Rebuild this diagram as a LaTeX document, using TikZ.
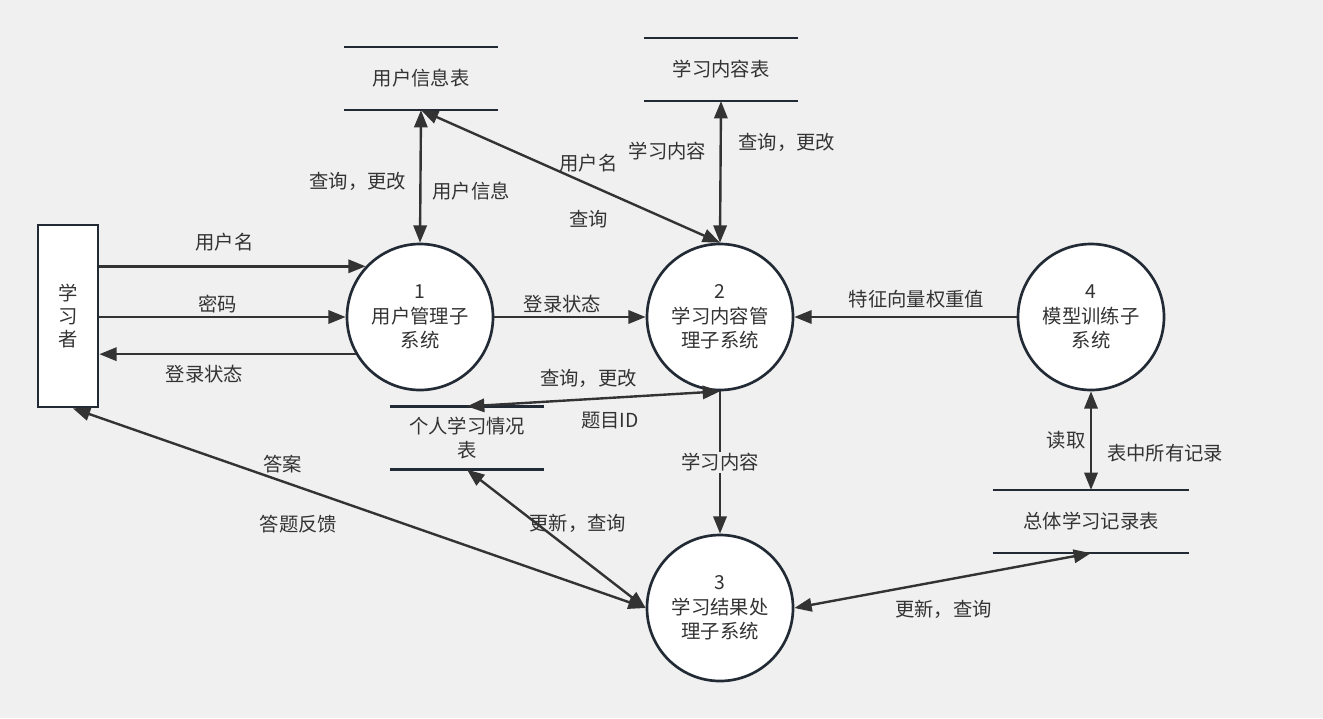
\documentclass[tikz,border=0pt]{standalone}
\usepackage{fontspec}
\setmainfont{Noto Sans CJK SC}
\usepackage{xcolor}
\usepackage{tikz}
\usetikzlibrary{arrows.meta}

\definecolor{canvas}{HTML}{F0F0F0}
\definecolor{ink}{HTML}{333333}
\definecolor{rim}{HTML}{222B35}
\newcommand{\dffont}{\fontsize{14.5}{18.4}\selectfont}

\begin{document}
\begin{tikzpicture}[x=0.75pt, y=-0.75pt]
\tikzstyle{process}=[circle, draw=rim, line width=2pt, fill=white, minimum size=109.5pt, inner sep=0pt, align=center, text=ink, font=\dffont]
\tikzstyle{entity}=[rectangle, draw=rim, line width=2pt, fill=white, minimum width=45pt, minimum height=136.5pt, inner sep=0pt, align=center, text=ink, font=\fontsize{14.5}{17.3}\selectfont]
\tikzstyle{store}=[minimum width=115pt, minimum height=47pt, inner sep=0pt, align=center, text=ink, font=\dffont]
\tikzstyle{storeline}=[draw=rim, line width=2pt]
\tikzstyle{flow}=[draw=ink, line width=1.8pt, -{Triangle[length=13pt, width=10pt]}]
\tikzstyle{twoway}=[flow, {Triangle[length=13pt, width=10pt]}-{Triangle[length=13pt, width=10pt]}]
\tikzstyle{lbl}=[text=ink, inner sep=1pt, font=\dffont]

% Background
\fill[canvas] (0, 0) rectangle (1323, 718);

% External entity
\node[entity] (learner) at (68, 316) {学\\习\\者};

% Processes
\node[process] (usermgr) at (420, 317) {1\\用户管理子\\系统};
\node[process] (contentmgr) at (720, 317) {2\\学习内容管\\理子系统};
\node[process] (resultproc) at (720, 608) {3\\学习结果处\\理子系统};
\node[process] (training) at (1091, 317) {4\\模型训练子\\系统};

% Data stores
\node[store] (userinfo) at (421, 78.5) {用户信息表};
\node[store] (contentdb) at (721, 69.5) {学习内容表};
\node[store] (personaldb) at (467, 438) {个人学习情况\\表};
\node[store, minimum width=147pt] (recorddb) at (1091, 521.5) {总体学习记录表};
\foreach \s in {userinfo, contentdb, personaldb, recorddb}
  \path[storeline] (\s.north west) -- (\s.north east) (\s.south west) -- (\s.south east);

% Learner <-> user management
\path[flow] (learner.east |- usermgr.137) -- (usermgr.137) node[lbl, pos=0.47, yshift=18pt] {用户名};
\path[flow] (learner.east |- usermgr.west) -- (usermgr.west) node[lbl, pos=0.48, yshift=9.75pt] {密码};
\path[flow] (usermgr.210) -- (learner.east |- usermgr.210) node[lbl, pos=0.59, yshift=-15pt] {登录状态};

% Between processes
\path[flow] (usermgr.east) -- (contentmgr.west) node[lbl, pos=0.45, yshift=9.75pt] {登录状态};
\path[flow] (training.west) -- (contentmgr.east) node[lbl, pos=0.45, yshift=13.5pt] {特征向量权重值};
\path[flow] (contentmgr.south) -- (resultproc.north) node[lbl, pos=0.5, fill=canvas] {学习内容};

% Store access
\path[twoway] (userinfo.south) -- (usermgr.north) node[lbl, pos=0.54, xshift=-47pt] {查询，更改} node[lbl, pos=0.61, xshift=38pt] {用户信息};
\path[twoway] (userinfo.south) -- (contentmgr.north) node[lbl, pos=0.56, yshift=15.75pt] {用户名} node[lbl, pos=0.56, yshift=-26.25pt] {查询};
\path[twoway] (contentdb.south) -- (contentmgr.north) node[lbl, pos=0.35, xshift=-39.75pt] {学习内容} node[lbl, pos=0.29, xshift=49.5pt] {查询，更改};
\path[twoway] (contentmgr.south) -- (personaldb.north) node[lbl, pos=0.52, yshift=15.75pt] {查询，更改} node[lbl, pos=0.435, yshift=-17pt] {题目ID};
\path[twoway] (personaldb.south) -- (resultproc.west) node[lbl, pos=0.39, xshift=30.75pt] {更新，查询};
\path[twoway] (learner.-87) -- (resultproc.west) node[lbl, pos=0.366, yshift=13.2pt] {答案} node[lbl, pos=0.394, yshift=-27.75pt] {答题反馈};
\path[twoway] (resultproc.east) -- (recorddb.south) node[lbl, pos=0.503, yshift=-21.5pt] {更新，查询};
\path[twoway] (training.south) -- (recorddb.north) node[lbl, pos=0.5, xshift=-18.75pt] {读取} node[lbl, pos=0.63, xshift=55.5pt] {表中所有记录};
\end{tikzpicture}
\end{document}
